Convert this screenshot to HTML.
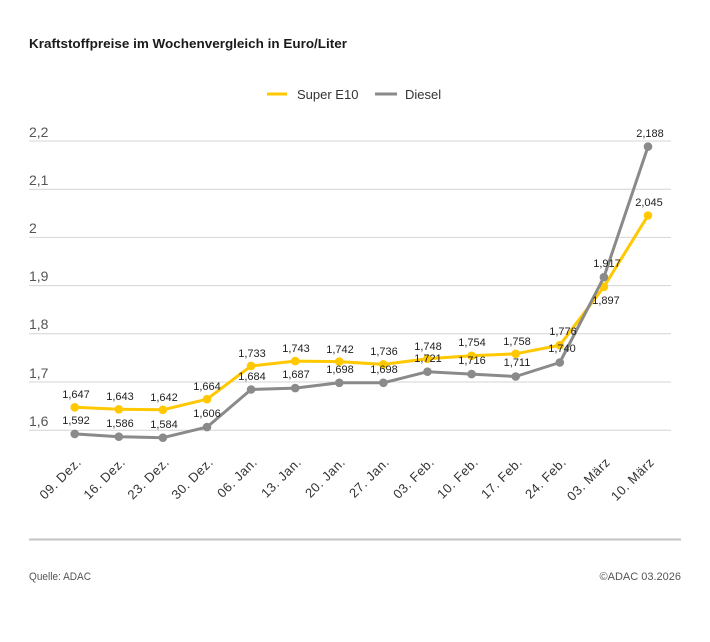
<!DOCTYPE html>
<html>
<head>
<meta charset="utf-8">
<style>
  html, body { margin: 0; padding: 0; background: #ffffff; }
  svg { display: block; }
  text { font-family: "Liberation Sans", "DejaVu Sans", sans-serif; }
</style>
</head>
<body>
<svg width="710" height="642" viewBox="0 0 710 642" xmlns="http://www.w3.org/2000/svg">
  <rect width="710" height="642" fill="#ffffff"/>

  <!-- Title -->
  <text x="29" y="48" font-size="13" font-weight="bold" fill="#1a1a1a" textLength="318" lengthAdjust="spacingAndGlyphs">Kraftstoffpreise im Wochenvergleich in Euro/Liter</text>

  <!-- Legend -->
  <line x1="267" y1="94" x2="287" y2="94" stroke="#FFC800" stroke-width="3"/>
  <text x="297" y="99" font-size="13" fill="#333">Super E10</text>
  <line x1="375" y1="94" x2="397" y2="94" stroke="#8A8A8A" stroke-width="3"/>
  <text x="405" y="99" font-size="13" fill="#333">Diesel</text>

  <!-- Gridlines -->
  <g stroke="#d4d4d4" stroke-width="1">
    <line x1="29" y1="141" x2="671" y2="141"/>
    <line x1="29" y1="189.2" x2="671" y2="189.2"/>
    <line x1="29" y1="237.4" x2="671" y2="237.4"/>
    <line x1="29" y1="285.6" x2="671" y2="285.6"/>
    <line x1="29" y1="333.8" x2="671" y2="333.8"/>
    <line x1="29" y1="382" x2="671" y2="382"/>
    <line x1="29" y1="430.2" x2="671" y2="430.2"/>
  </g>

  <!-- Y labels -->
  <g font-size="14" fill="#555">
    <text x="29" y="137">2,2</text>
    <text x="29" y="185">2,1</text>
    <text x="29" y="233">2</text>
    <text x="29" y="281">1,9</text>
    <text x="29" y="329">1,8</text>
    <text x="29" y="378">1,7</text>
    <text x="29" y="426">1,6</text>
  </g>

  <!-- Super E10 line -->
  <polyline fill="none" stroke="#FFC800" stroke-width="3" stroke-linejoin="round"
    points="74.7,407.3 118.8,409.3 162.9,409.8 207.0,399.2 251.1,365.9 295.2,361.1 339.3,361.6 383.4,364.4 427.5,358.7 471.6,355.8 515.7,353.8 559.8,345.2 603.9,286.8 648.0,215.5"/>
  <g fill="#FFC800">
    <circle cx="74.7" cy="407.3" r="4.3"/>
    <circle cx="118.8" cy="409.3" r="4.3"/>
    <circle cx="162.9" cy="409.8" r="4.3"/>
    <circle cx="207.0" cy="399.2" r="4.3"/>
    <circle cx="251.1" cy="365.9" r="4.3"/>
    <circle cx="295.2" cy="361.1" r="4.3"/>
    <circle cx="339.3" cy="361.6" r="4.3"/>
    <circle cx="383.4" cy="364.4" r="4.3"/>
    <circle cx="427.5" cy="358.7" r="4.3"/>
    <circle cx="471.6" cy="355.8" r="4.3"/>
    <circle cx="515.7" cy="353.8" r="4.3"/>
    <circle cx="559.8" cy="345.2" r="4.3"/>
    <circle cx="603.9" cy="286.8" r="4.3"/>
    <circle cx="648.0" cy="215.5" r="4.3"/>
  </g>

  <!-- Diesel line -->
  <polyline fill="none" stroke="#8A8A8A" stroke-width="3" stroke-linejoin="round"
    points="74.7,433.9 118.8,436.7 162.9,437.7 207.0,427.1 251.1,389.5 295.2,388.1 339.3,382.8 383.4,382.8 427.5,371.7 471.6,374.1 515.7,376.5 559.8,362.5 603.9,277.2 648.0,146.6"/>
  <g fill="#8A8A8A">
    <circle cx="74.7" cy="433.9" r="4.3"/>
    <circle cx="118.8" cy="436.7" r="4.3"/>
    <circle cx="162.9" cy="437.7" r="4.3"/>
    <circle cx="207.0" cy="427.1" r="4.3"/>
    <circle cx="251.1" cy="389.5" r="4.3"/>
    <circle cx="295.2" cy="388.1" r="4.3"/>
    <circle cx="339.3" cy="382.8" r="4.3"/>
    <circle cx="383.4" cy="382.8" r="4.3"/>
    <circle cx="427.5" cy="371.7" r="4.3"/>
    <circle cx="471.6" cy="374.1" r="4.3"/>
    <circle cx="515.7" cy="376.5" r="4.3"/>
    <circle cx="559.8" cy="362.5" r="4.3"/>
    <circle cx="603.9" cy="277.2" r="4.3"/>
    <circle cx="648.0" cy="146.6" r="4.3"/>
  </g>

  <!-- E10 data labels -->
  <g font-size="11" fill="#222" text-anchor="middle">
    <text x="76" y="398">1,647</text>
    <text x="120" y="400">1,643</text>
    <text x="164" y="401">1,642</text>
    <text x="207" y="390">1,664</text>
    <text x="252" y="357">1,733</text>
    <text x="296" y="352">1,743</text>
    <text x="340" y="353">1,742</text>
    <text x="384" y="355">1,736</text>
    <text x="428" y="350">1,748</text>
    <text x="472" y="346">1,754</text>
    <text x="517" y="345">1,758</text>
    <text x="563" y="335">1,776</text>
    <text x="606" y="304">1,897</text>
    <text x="649" y="206">2,045</text>
  </g>

  <!-- Diesel data labels -->
  <g font-size="11" fill="#222" text-anchor="middle">
    <text x="76" y="424">1,592</text>
    <text x="120" y="427">1,586</text>
    <text x="164" y="428">1,584</text>
    <text x="207" y="417">1,606</text>
    <text x="252" y="380">1,684</text>
    <text x="296" y="378">1,687</text>
    <text x="340" y="373">1,698</text>
    <text x="384" y="373">1,698</text>
    <text x="428" y="362">1,721</text>
    <text x="472" y="364">1,716</text>
    <text x="517" y="366">1,711</text>
    <text x="562" y="352">1,740</text>
    <text x="607" y="267">1,917</text>
    <text x="650" y="137">2,188</text>
  </g>

  <!-- X labels -->
  <g font-size="13" fill="#333" text-anchor="end" letter-spacing="0.5">
    <text transform="translate(82,463) rotate(-45)">09. Dez.</text>
    <text transform="translate(126,463) rotate(-45)">16. Dez.</text>
    <text transform="translate(170,463) rotate(-45)">23. Dez.</text>
    <text transform="translate(214,463) rotate(-45)">30. Dez.</text>
    <text transform="translate(258,463) rotate(-45)">06. Jan.</text>
    <text transform="translate(302,463) rotate(-45)">13. Jan.</text>
    <text transform="translate(346,463) rotate(-45)">20. Jan.</text>
    <text transform="translate(390,463) rotate(-45)">27. Jan.</text>
    <text transform="translate(435,463) rotate(-45)">03. Feb.</text>
    <text transform="translate(479,463) rotate(-45)">10. Feb.</text>
    <text transform="translate(523,463) rotate(-45)">17. Feb.</text>
    <text transform="translate(567,463) rotate(-45)">24. Feb.</text>
    <text transform="translate(611,463) rotate(-45)">03. März</text>
    <text transform="translate(655,463) rotate(-45)">10. März</text>
  </g>

  <!-- Separator -->
  <line x1="29" y1="539.5" x2="681" y2="539.5" stroke="#c4c4c4" stroke-width="2"/>

  <!-- Footer -->
  <text x="29" y="580" font-size="11" fill="#555" textLength="62" lengthAdjust="spacingAndGlyphs">Quelle: ADAC</text>
  <text x="681" y="580" font-size="11" fill="#555" text-anchor="end">©ADAC 03.2026</text>
</svg>
</body>
</html>
